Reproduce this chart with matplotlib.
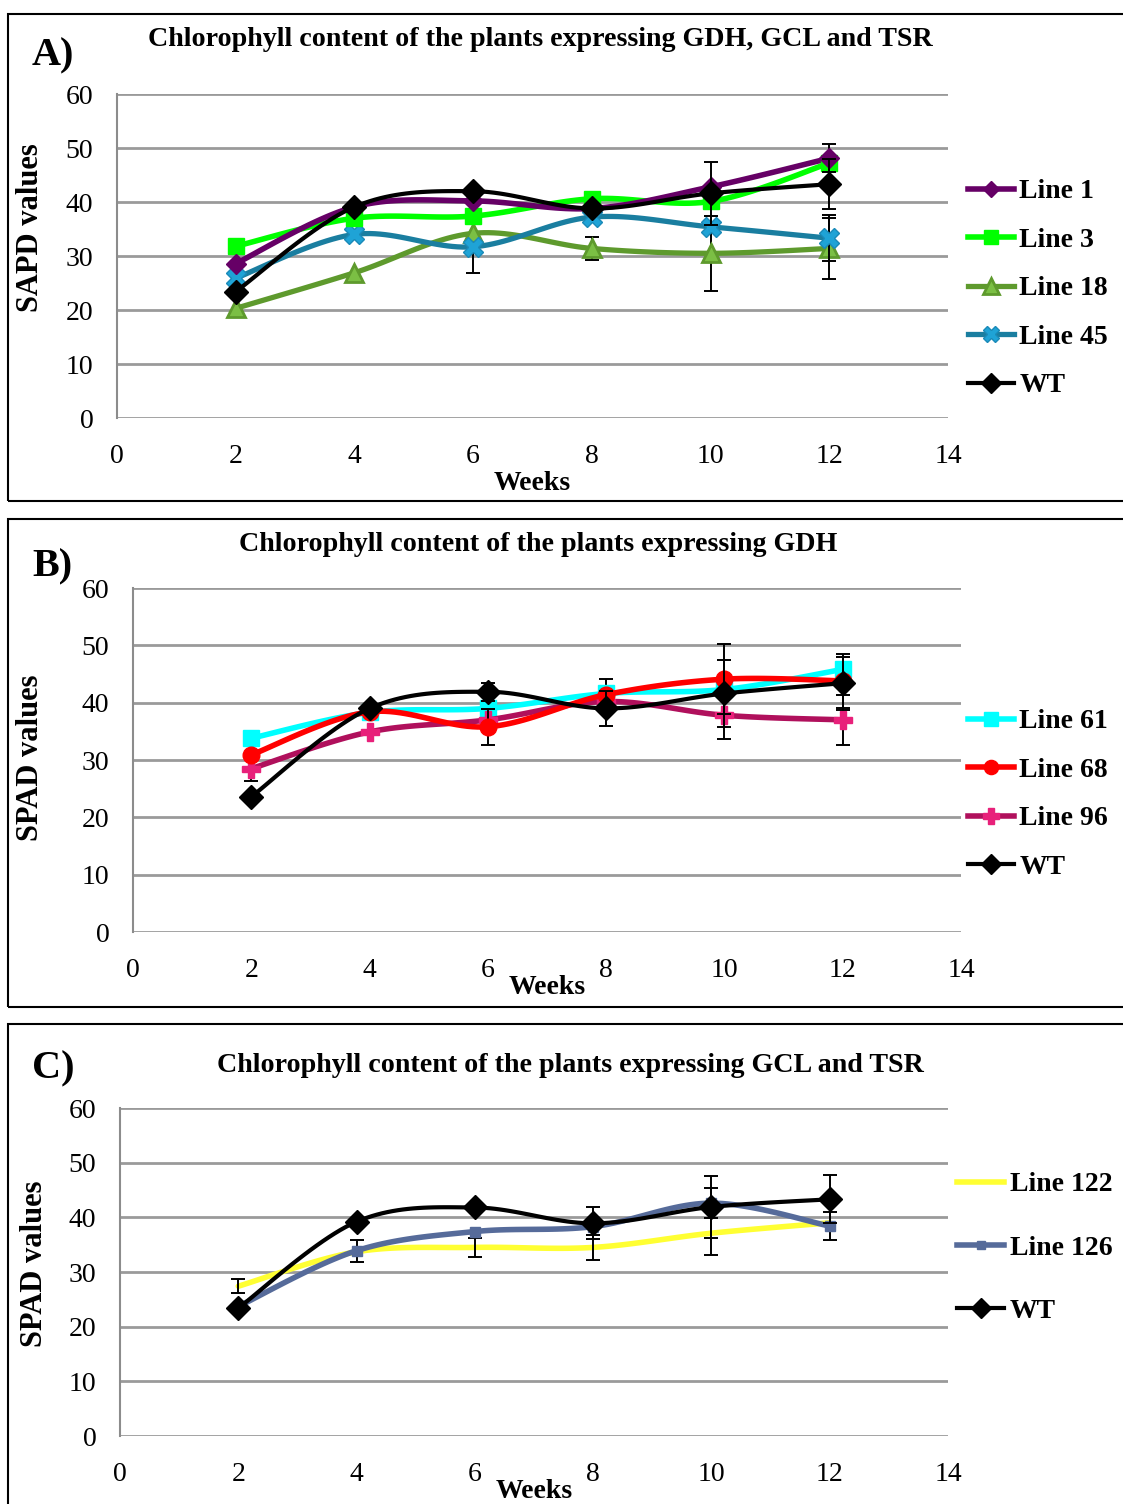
import numpy as np
import matplotlib
matplotlib.use("Agg")
import matplotlib.pyplot as plt
from matplotlib.patches import Rectangle

plt.rcParams['font.family'] = ['Liberation Serif', 'DejaVu Serif']

weeks = [2, 4, 6, 8, 10, 12]

# Panel A
a_line1 = [28.6, 39.1, 40.2, 38.8, 42.8, 48.1]
a_line3 = [31.8, 37.0, 37.4, 40.6, 40.1, 47.2]
a_line18 = [20.3, 26.9, 34.2, 31.4, 30.5, 31.4]
a_line45 = [25.9, 34.0, 31.7, 37.2, 35.4, 33.3]
a_wt = [23.4, 39.1, 42.0, 38.8, 41.6, 43.3]
a_err_line1 = [0, 0, 0, 0, 0, 2.6]
a_err_line18 = [0, 0, 7.3, 2.2, 7.0, 5.7]
a_err_line45 = [0, 0, 0, 0, 0, 4.3]
a_err_wt = [0, 0, 0, 0, 5.9, 4.6]

# Panel B
b_line61 = [33.8, 38.3, 39.0, 41.6, 42.3, 45.8]
b_line68 = [30.9, 38.4, 35.8, 41.4, 44.1, 43.8]
b_line96 = [28.5, 34.9, 37.0, 40.2, 37.8, 37.0]
b_wt = [23.6, 39.0, 41.9, 39.0, 41.6, 43.4]
b_err_line61 = [0, 0, 0, 2.5, 0, 0]
b_err_line68 = [0, 0, 3.1, 0, 6.1, 4.7]
b_err_line96 = [2.1, 0, 0, 0, 4.1, 4.4]
b_err_wt = [0, 0, 1.6, 3.0, 5.8, 4.6]

# Panel C
c_line122 = [27.4, 33.7, 34.5, 34.5, 37.1, 39.0]
c_line126 = [23.7, 33.9, 37.4, 38.3, 42.6, 38.4]
c_wt = [23.4, 39.2, 41.8, 38.9, 41.9, 43.3]
c_err_line122 = [1.3, 0, 1.7, 2.3, 4.0, 0]
c_err_line126 = [0, 2.0, 0, 0, 2.7, 2.5]
c_err_wt = [0, 0, 0, 2.9, 5.7, 4.4]

xticks = [0, 2, 4, 6, 8, 10, 12, 14]
yticks = [0, 10, 20, 30, 40, 50, 60]

W, H = 1123, 1504
fig = plt.figure(figsize=(W / 100, H / 100), dpi=100)


def smooth(x, y, n=24):
    """Catmull-Rom (Excel-style) smoothed path through the data points."""
    x = np.asarray(x, float)
    y = np.asarray(y, float)
    px = np.concatenate([[x[0]], x, [x[-1]]])
    py = np.concatenate([[y[0]], y, [y[-1]]])
    xs, ys = [], []
    for i in range(1, len(px) - 2):
        p0 = np.array([px[i - 1], py[i - 1]])
        p1 = np.array([px[i], py[i]])
        p2 = np.array([px[i + 1], py[i + 1]])
        p3 = np.array([px[i + 2], py[i + 2]])
        c1 = p1 + (p2 - p0) / 6.0
        c2 = p2 - (p3 - p1) / 6.0
        t = np.linspace(0, 1, n)[:, None]
        pts = ((1 - t) ** 3) * p1 + 3 * ((1 - t) ** 2) * t * c1 + 3 * (1 - t) * t ** 2 * c2 + t ** 3 * p2
        xs.extend(pts[:, 0])
        ys.extend(pts[:, 1])
    return np.array(xs), np.array(ys)


def fig_rect(px_left, px_top, px_right, px_bottom):
    return [px_left / W, 1 - px_bottom / H, (px_right - px_left) / W, (px_bottom - px_top) / H]


def setup_axes(ax):
    ax.set_xlim(0, 14)
    ax.set_ylim(0, 60)
    ax.set_xticks(xticks)
    ax.set_yticks(yticks)
    ax.tick_params(axis='both', length=0, labelsize=20)
    ax.tick_params(axis='x', pad=19)
    ax.tick_params(axis='y', pad=17)
    for s in ['top', 'right', 'bottom']:
        ax.spines[s].set_visible(False)
    ax.spines['left'].set_color('#8c8c8c')
    ax.spines['left'].set_linewidth(1.5)
    ax.yaxis.grid(True, color='#9a9a9a', linewidth=2)
    ax.set_axisbelow(True)


def series(ax, y, err, color, lw, marker, mfc, mec, ms, mew, label, zorder):
    xs, ys = smooth(weeks, y)
    ax.plot(xs, ys, color=color, lw=lw, zorder=zorder, solid_capstyle='round')
    if err is not None and any(e > 0 for e in err):
        xe = [w for w, e in zip(weeks, err) if e > 0]
        ye = [v for v, e in zip(y, err) if e > 0]
        ee = [e for e in err if e > 0]
        ax.errorbar(xe, ye, yerr=ee, fmt='none', ecolor='black', elinewidth=1.4,
                    capsize=5, capthick=1.4, zorder=zorder + 0.5)
    if marker is not None:
        ax.plot(weeks, y, linestyle='none', marker=marker, ms=ms, mfc=mfc, mec=mec,
                mew=mew, zorder=zorder + 0.6)
    ax.plot([], [], color=color, lw=lw, marker=marker, ms=ms * 0.85 if marker else 0,
            mfc=mfc, mec=mec, mew=mew, label=label)


def add_legend(ax, order, left_px, top_px, spacing, hlen=1.65):
    h, l = ax.get_legend_handles_labels()
    hd = dict(zip(l, h))
    ax.legend([hd[k] for k in order], order, loc='upper left',
              bbox_to_anchor=(left_px / W, 1 - top_px / H), bbox_transform=fig.transFigure,
              frameon=False, prop={'weight': 'bold', 'size': 20}, handlelength=hlen,
              handletextpad=0.2, labelspacing=spacing, borderpad=0, borderaxespad=0)


# Panel borders (right / bottom edges run off the page, as in the reference)
for (t, b) in [(14, 501), (519, 1007), (1024, 1520)]:
    fig.patches.append(Rectangle((8 / W, 1 - b / H), (1140 - 8) / W, (b - t) / H,
                                 transform=fig.transFigure, fill=False,
                                 edgecolor='black', linewidth=1.5))

TITLE_FS = 20.2
LABEL_FS = 22

# ---------- Panel A ----------
axA = fig.add_axes(fig_rect(117, 94, 948, 418))
setup_axes(axA)
series(axA, a_line18, a_err_line18, '#5e9a2d', 3.8, '^', '#7bbf44', '#5e9a2d', 13, 2, 'Line 18', 3)
series(axA, a_line45, a_err_line45, '#1a7ea0', 3.8, 'X', '#1fa3d6', '#1a8ab8', 14, 1, 'Line 45', 4)
series(axA, a_line3, None, '#00ff00', 4.0, 's', '#00ff00', '#00ff00', 12, 1, 'Line 3', 5)
series(axA, a_line1, a_err_line1, '#660066', 4.0, 'D', '#660066', '#660066', 10, 1, 'Line 1', 5.5)
series(axA, a_wt, a_err_wt, 'black', 3.0, 'D', 'black', 'black', 12, 1, 'WT', 6)
add_legend(axA, ['Line 1', 'Line 3', 'Line 18', 'Line 45', 'WT'], 968, 179, 0.83)

fig.text(540 / W, 1 - 39 / H, 'Chlorophyll content of the plants expressing GDH, GCL and TSR',
         ha='center', va='center', fontsize=TITLE_FS, fontweight='bold')
fig.text(32 / W, 1 - 56 / H, 'A)', ha='left', va='center', fontsize=29, fontweight='bold')
fig.text(31 / W, 1 - 228 / H, 'SAPD values', ha='center', va='center', rotation=90,
         fontsize=LABEL_FS, fontweight='bold')
fig.text(532 / W, 1 - 483 / H, 'Weeks', ha='center', va='center', fontsize=20, fontweight='bold')

# ---------- Panel B ----------
axB = fig.add_axes(fig_rect(133, 588, 961, 932))
setup_axes(axB)
series(axB, b_line61, b_err_line61, '#00ffff', 4.0, 's', '#00ffff', '#00ffff', 12, 1, 'Line 61', 3)
series(axB, b_line96, b_err_line96, '#b0105c', 4.0, 'P', '#e8207a', '#e8207a', 13, 1, 'Line 96', 4)
series(axB, b_line68, b_err_line68, '#ff0000', 4.0, 'o', '#ff0000', '#ff0000', 12, 1, 'Line 68', 5)
series(axB, b_wt, b_err_wt, 'black', 3.0, 'D', 'black', 'black', 12, 1, 'WT', 6)
add_legend(axB, ['Line 61', 'Line 68', 'Line 96', 'WT'], 968, 709, 0.83)

fig.text(538 / W, 1 - 545 / H, 'Chlorophyll content of the plants expressing GDH',
         ha='center', va='center', fontsize=TITLE_FS, fontweight='bold')
fig.text(32 / W, 1 - 567 / H, 'B)', ha='left', va='center', fontsize=29, fontweight='bold')
fig.text(31 / W, 1 - 758 / H, 'SPAD values', ha='center', va='center', rotation=90,
         fontsize=LABEL_FS, fontweight='bold')
fig.text(547 / W, 1 - 988 / H, 'Weeks', ha='center', va='center', fontsize=20, fontweight='bold')

# ---------- Panel C ----------
axC = fig.add_axes(fig_rect(120, 1108, 948, 1436))
setup_axes(axC)
series(axC, c_line122, c_err_line122, '#ffff33', 4.0, None, None, None, 0, 0, 'Line 122', 3)
series(axC, c_line126, c_err_line126, '#566b9a', 4.0, 's', '#566b9a', '#566b9a', 7, 1, 'Line 126', 4)
series(axC, c_wt, c_err_wt, 'black', 3.0, 'D', 'black', 'black', 12, 1, 'WT', 6)
add_legend(axC, ['Line 122', 'Line 126', 'WT'], 957, 1172, 1.36, hlen=1.7)

fig.text(570 / W, 1 - 1065 / H, 'Chlorophyll content of the plants expressing GCL and TSR',
         ha='center', va='center', fontsize=TITLE_FS, fontweight='bold')
fig.text(32 / W, 1 - 1069 / H, 'C)', ha='left', va='center', fontsize=29, fontweight='bold')
fig.text(35 / W, 1 - 1264 / H, 'SPAD values', ha='center', va='center', rotation=90,
         fontsize=LABEL_FS, fontweight='bold')
fig.text(534 / W, 1 - 1492 / H, 'Weeks', ha='center', va='center', fontsize=20, fontweight='bold')

fig.savefig('out.png', dpi=100)
